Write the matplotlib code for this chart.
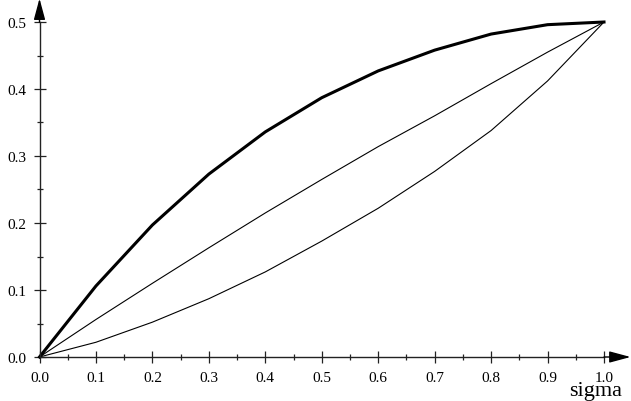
import numpy as np
import matplotlib
matplotlib.use('Agg')
import matplotlib.pyplot as plt
from matplotlib.ticker import MultipleLocator

# Values
sigma = [0.0, 0.1, 0.2, 0.3, 0.4, 0.5, 0.6, 0.7, 0.8, 0.9, 1.0]
upper = [0.0, 0.106, 0.197, 0.273, 0.336, 0.387, 0.427, 0.458, 0.482, 0.496, 0.5]
middle = [0.0, 0.056, 0.110, 0.163, 0.215, 0.265, 0.314, 0.360, 0.408, 0.455, 0.5]
lower = [0.0, 0.022, 0.052, 0.087, 0.127, 0.173, 0.222, 0.277, 0.338, 0.412, 0.5]
x_label = 'sigma'

plt.rcParams['font.family'] = ['Liberation Serif', 'DejaVu Serif']

W, H = 631, 402
fig = plt.figure(figsize=(W / 100, H / 100), dpi=100)
# axes box so that (0,0) sits at pixel (39.5, 358) and (1.0, 0.5) at (604, 23)
ax = fig.add_axes([39.5 / W, (H - 358) / H, 564.5 / W, 335 / H])
ax.set_xlim(0, 1.0)
ax.set_ylim(0, 0.5)

ax.plot(sigma, upper, color='black', lw=2.2, solid_joinstyle='miter', clip_on=False)
ax.plot(sigma, middle, color='black', lw=0.8, clip_on=False)
ax.plot(sigma, lower, color='black', lw=0.8, clip_on=False)

for s in ['top', 'right']:
    ax.spines[s].set_visible(False)
for s in ['left', 'bottom']:
    ax.spines[s].set_linewidth(1.0)
    ax.spines[s].set_color('#222222')

# axis arrows
ax.annotate('', xy=(1.047, 0), xytext=(1.0, 0), xycoords='data',
            arrowprops=dict(arrowstyle='-|>,head_length=1.3,head_width=0.35',
                            color='black', lw=1.0, shrinkA=0, shrinkB=0),
            annotation_clip=False)
ax.annotate('', xy=(0, 0.535), xytext=(0, 0.5), xycoords='data',
            arrowprops=dict(arrowstyle='-|>,head_length=1.3,head_width=0.35',
                            color='black', lw=1.0, shrinkA=0, shrinkB=0),
            annotation_clip=False)

ax.xaxis.set_major_locator(MultipleLocator(0.1))
ax.xaxis.set_minor_locator(MultipleLocator(0.05))
ax.yaxis.set_major_locator(MultipleLocator(0.1))
ax.yaxis.set_minor_locator(MultipleLocator(0.05))
ax.xaxis.set_major_formatter(plt.FuncFormatter(lambda v, p: f'{v:.1f}'))
ax.yaxis.set_major_formatter(plt.FuncFormatter(lambda v, p: f'{v:.1f}'))
ax.tick_params(which='major', direction='inout', length=8.5, width=0.9,
               labelsize=11, color='#222222')
ax.tick_params(which='minor', direction='inout', length=4, width=0.9, color='#222222')
ax.tick_params(axis='x', which='major', pad=5.5)
ax.tick_params(axis='y', which='major', pad=5)

ax.text(0.938, -0.057, x_label, fontsize=16, ha='left', va='baseline',
        transform=ax.transData, clip_on=False)

fig.savefig('out.png', dpi=100)
